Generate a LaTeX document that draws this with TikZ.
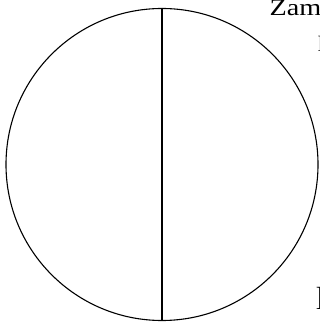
\documentclass[tikz,border=0pt]{standalone}
\usepackage{fontspec}
\setmainfont{Liberation Serif}
\usetikzlibrary{positioning}
\definecolor{ink}{RGB}{0,0,0}
\tikzset{
  disc/.style={draw=ink,circle,line width=1.1pt,minimum size=312pt,inner sep=0pt},
  split/.style={draw=ink,line width=1.3pt},
  cut/.style={font=\fontsize{22}{24}\selectfont,inner sep=0pt,anchor=base west},
}

\begin{document}
\begin{tikzpicture}[x=1pt,y=1pt]
  \useasboundingbox (0,0) rectangle (320,323);
  \clip (0,0) rectangle (320,323);
  % circle cut in two halves
  \node[disc] (wheel) at (162,158.5) {};
  \draw[split] (wheel.north) -- (wheel.south);

  % text running off the right edge
  \node[cut,font=\fontsize{23.5}{26}\selectfont,xscale=1.2,transform shape] (word) at (269.5,307.3) {Zam};
  \node[cut] (mid) at (317.6,271) {l};
  \node[cut,font=\fontsize{32}{34}\selectfont] (low) at (315.8,13) {l};
\end{tikzpicture}
\end{document}
